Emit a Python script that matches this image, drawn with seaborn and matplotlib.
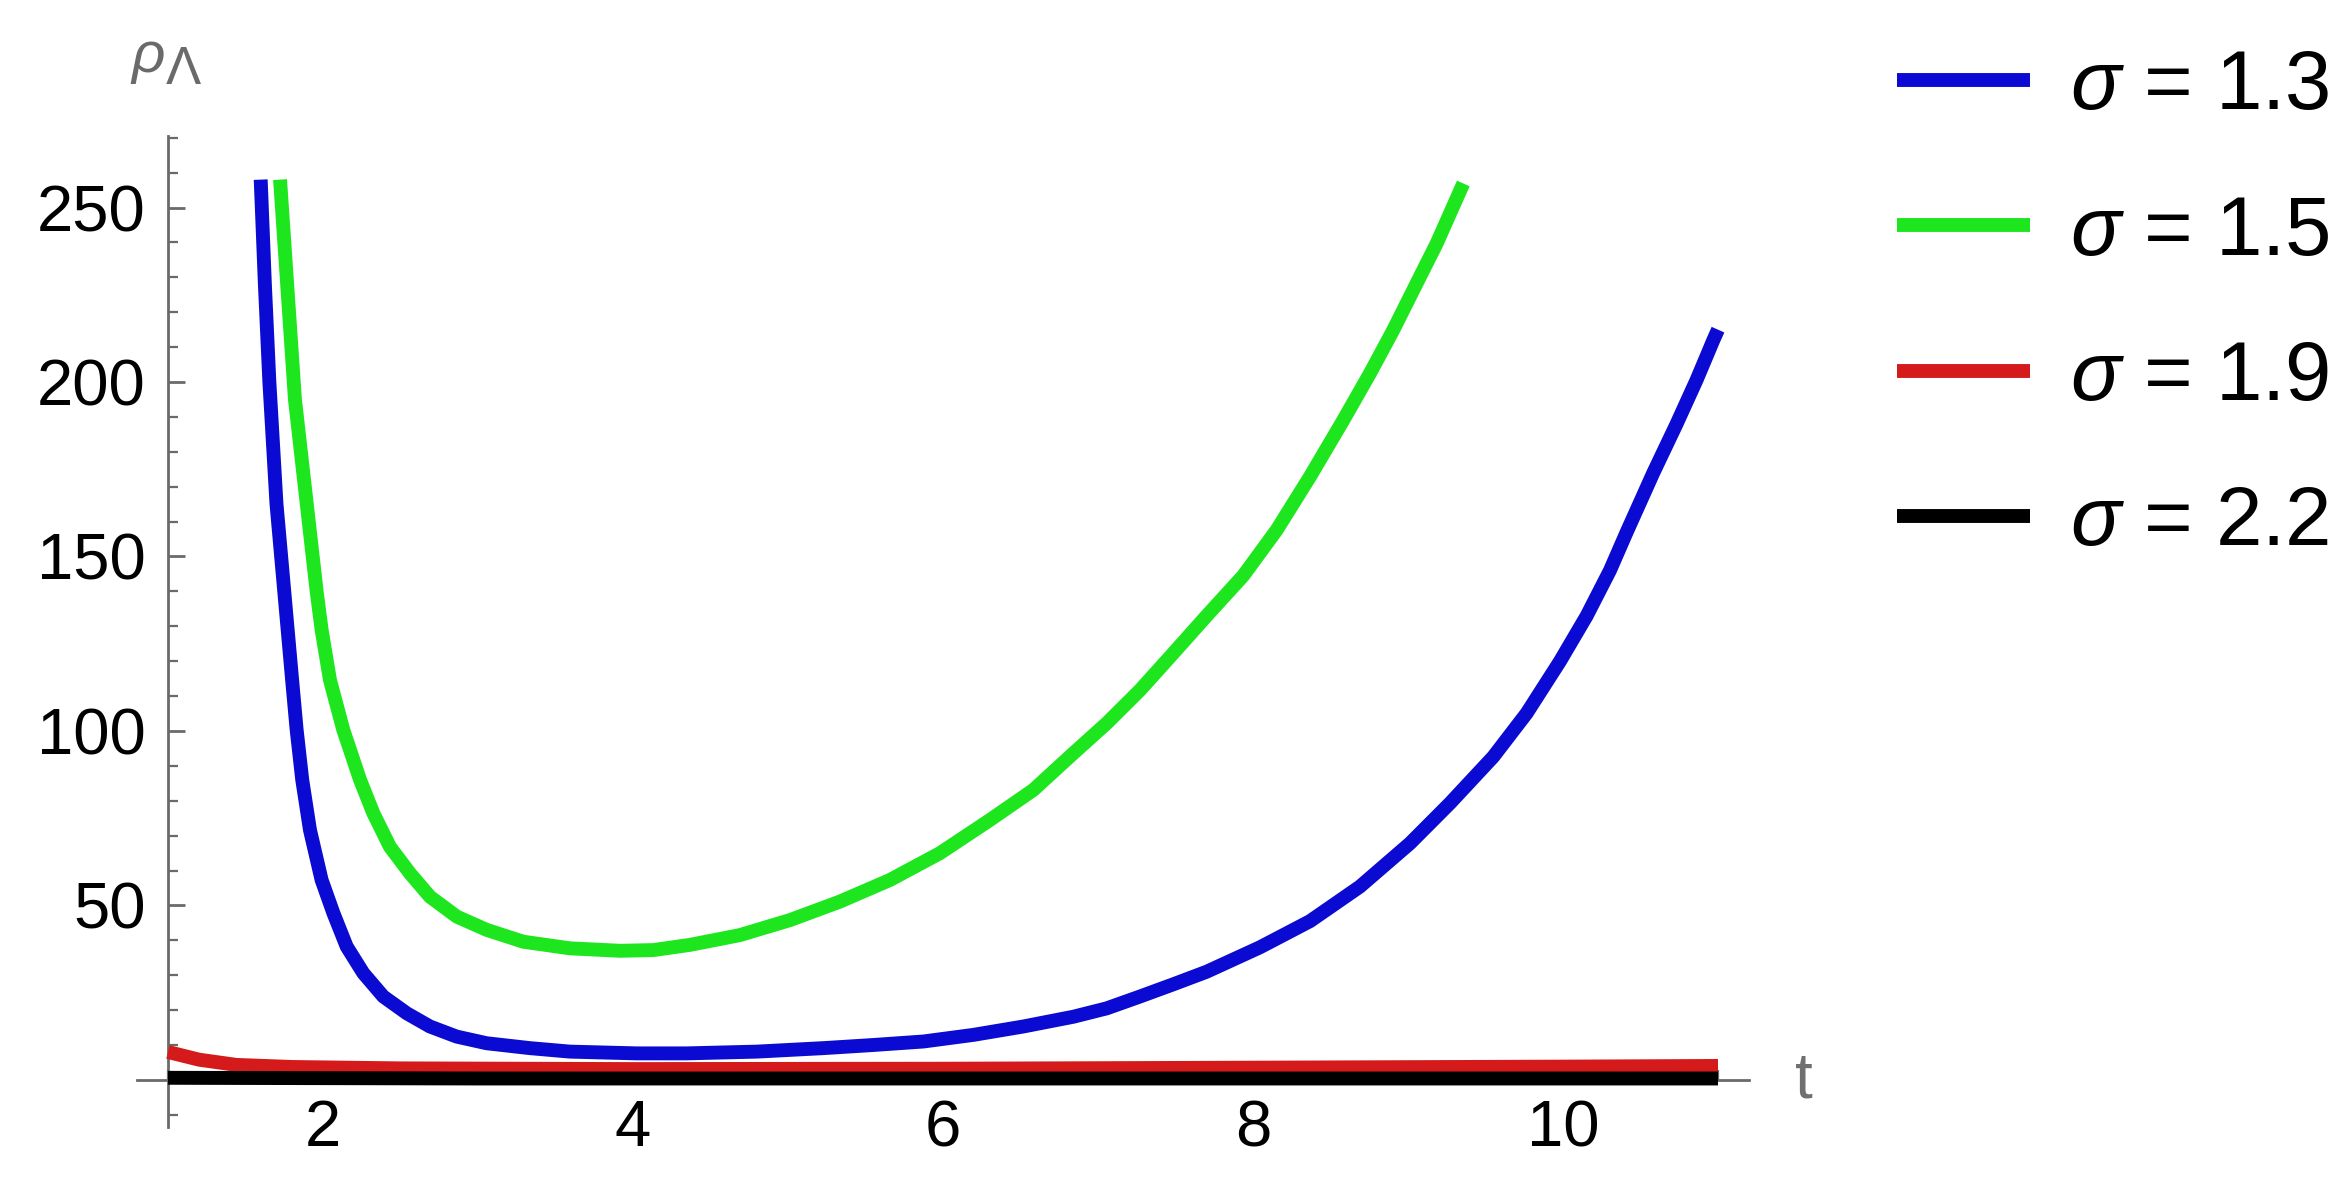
import numpy as np
import pandas as pd
import matplotlib
matplotlib.use("Agg")
import matplotlib.pyplot as plt
import seaborn as sns
from matplotlib.ticker import MultipleLocator, FixedLocator

# ---- data ----
labels = [r"$\sigma$ = 1.3", r"$\sigma$ = 1.5", r"$\sigma$ = 1.9", r"$\sigma$ = 2.2"]
colors = ["#0a0ad2", "#1ee61e", "#d41a1a", "#000000"]

t_s13 = [1.598, 1.625, 1.654, 1.700, 1.744, 1.772, 1.800, 1.830, 1.866, 1.916, 1.991, 2.067,
         2.153, 2.260, 2.389, 2.540, 2.690, 2.863, 3.056, 3.335, 3.594, 4.024, 4.346,
         4.798, 5.228, 5.550, 5.873, 6.196, 6.518, 6.841, 7.056, 7.271, 7.486, 7.701,
         8.045, 8.368, 8.690, 9.013, 9.271, 9.550, 9.766, 9.981, 10.153, 10.303,
         10.411, 10.583, 10.733, 10.862, 10.970, 11.0]
v_s13 = [258, 228, 200, 165, 143, 129, 115, 100.3, 86.0, 71.6, 57.3, 47.8,
         38.2, 30.6, 23.9, 19.1, 15.3, 12.4, 10.5, 9.1, 8.1, 7.6, 7.6,
         8.1, 9.1, 10.0, 11.0, 12.9, 15.3, 18.1, 20.5, 23.9, 27.4, 31.0,
         38.0, 45.5, 55.4, 67.8, 79.3, 92.6, 105.1, 120.0, 133.0, 146.0,
         157.0, 174.0, 188.0, 200.6, 212.0, 215.0]

t_s15 = [1.723, 1.819, 1.959, 1.991, 2.045, 2.131, 2.239, 2.325, 2.432, 2.561,
         2.690, 2.863, 3.056, 3.292, 3.594, 3.916, 4.131, 4.368, 4.690, 5.013, 5.335,
         5.658, 5.981, 6.303, 6.583, 6.841, 7.056, 7.271, 7.486, 7.701, 7.937, 8.153,
         8.368, 8.583, 8.755, 8.905, 9.056, 9.185, 9.357]
v_s15 = [258, 195, 140, 129, 114.6, 100.3, 86.0, 76.4, 66.8, 59.2,
         52.5, 46.8, 43.0, 39.6, 37.7, 37.0, 37.2, 38.7, 41.5, 45.8, 51.1,
         57.3, 65.0, 74.5, 83.1, 93.6, 102.2, 111.7, 122.3, 133.0, 144.5, 157.6,
         172.9, 189.1, 202.5, 214.9, 228.3, 239.7, 256.9]

t_s19 = [1.0, 1.2, 1.44, 1.8, 2.5, 4.0, 6.0, 8.0, 10.0, 11.0]
v_s19 = [8.0, 5.8, 4.3, 3.7, 3.3, 3.1, 3.2, 3.5, 3.8, 4.0]

t_s22 = [1.0, 3.0, 6.0, 11.0]
v_s22 = [0.6, 0.4, 0.4, 0.4]

x_major = [2, 4, 6, 8, 10]
y_major = [50, 100, 150, 200, 250]

frames = []
for lab, tt, vv in zip(labels, [t_s13, t_s15, t_s19, t_s22], [v_s13, v_s15, v_s19, v_s22]):
    frames.append(pd.DataFrame({"t": tt, "rho": vv, "series": lab}))
df = pd.concat(frames, ignore_index=True)

# ---- style ----
sns.set_style("white")
plt.rcParams["font.family"] = ["Liberation Sans", "DejaVu Sans"]
plt.rcParams["mathtext.fontset"] = "custom"
plt.rcParams["mathtext.it"] = "Liberation Sans:italic"
plt.rcParams["mathtext.rm"] = "Liberation Sans"
plt.rcParams["mathtext.sf"] = "Liberation Sans"

W, H = 2338, 1189
fig = plt.figure(figsize=(W / 100, H / 100), dpi=100)
ax = fig.add_axes([137 / W, 62 / H, 1612 / W, 991 / H])

sns.lineplot(data=df, x="t", y="rho", hue="series", palette=dict(zip(labels, colors)),
             hue_order=labels, linewidth=10, ax=ax, legend=True, sort=True,
             estimator=None)
for ln in ax.get_lines():
    ln.set_solid_capstyle("butt")
    ln.set_solid_joinstyle("round")

ax.set_xlim(0.8, 11.2)
ax.set_ylim(-13.5, 270.5)

axis_gray = "#6a6a6a"
for side in ["top", "right"]:
    ax.spines[side].set_visible(False)
ax.spines["left"].set_position(("data", 1))
ax.spines["bottom"].set_position(("data", 0))
for side in ["left", "bottom"]:
    ax.spines[side].set_color(axis_gray)
    ax.spines[side].set_linewidth(2.0)
    ax.spines[side].set_zorder(0.5)

ax.xaxis.set_major_locator(FixedLocator(x_major))
ax.yaxis.set_major_locator(FixedLocator(y_major))
ax.xaxis.set_minor_locator(MultipleLocator(0.5))
ax.yaxis.set_minor_locator(MultipleLocator(10))
ax.tick_params(axis="both", which="both", left=True, bottom=True, top=False, right=False)
ax.tick_params(axis="both", which="major", direction="in", length=12, width=2,
               color=axis_gray, labelsize=47, labelcolor="#000000")
ax.tick_params(axis="both", which="minor", direction="in", length=7, width=1.6,
               color=axis_gray)
ax.tick_params(axis="y", which="major", pad=16)
ax.tick_params(axis="x", which="major", pad=14)
ax.set_xlabel("")
ax.set_ylabel("")
ax.grid(False)

# axis labels (Mathematica-style, at the axis ends)
fig.text(130 / W, 1 - 86 / H, r"$\rho$", fontsize=42, color="#6a6a6a",
         ha="left", va="bottom")
fig.text(166 / W, 1 - 84 / H, "Λ", fontsize=38, color="#6a6a6a",
         ha="left", va="baseline")
fig.text(1804 / W, 1 - 1081 / H, "t", fontsize=46, color="#707070",
         ha="center", va="center")

# legend
handles, labs = ax.get_legend_handles_labels()
leg = ax.legend(handles, labs, loc="upper left", bbox_to_anchor=(1897 / W, 1 - 48 / H),
                bbox_transform=fig.transFigure, frameon=False, fontsize=60,
                handlelength=1.6, handletextpad=0.48, labelspacing=0.81,
                borderpad=0, borderaxespad=0)
for lh in leg.get_lines():
    lh.set_linewidth(10)
for tx in leg.get_texts():
    tx.set_color("#000000")

fig.savefig("out.png", dpi=100, facecolor="white")
